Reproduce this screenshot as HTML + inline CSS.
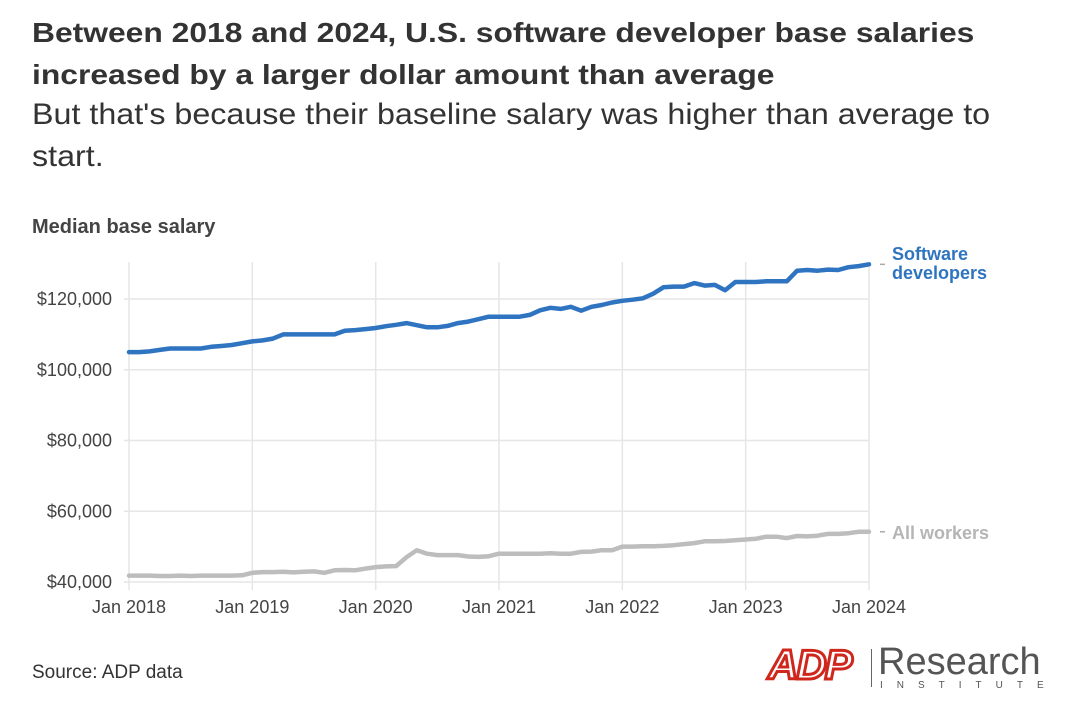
<!DOCTYPE html>
<html><head><meta charset="utf-8">
<style>
body{margin:0;background:#fff;font-family:"Liberation Sans","Noto Sans CJK SC",sans-serif;}
#wrap{position:relative;width:1080px;height:723px;overflow:hidden;}
.t{position:absolute;white-space:nowrap;}
</style></head><body>
<div id="wrap">
<div class="t" style="left:32px;top:12px;font-size:28px;font-weight:bold;color:#333;line-height:42px;transform:scaleX(1.136);transform-origin:0 0;">Between 2018 and 2024, U.S. software developer base salaries<br>increased by a larger dollar amount than average</div>
<div class="t" style="left:32px;top:94px;font-size:30px;color:#333;line-height:42px;transform:scaleX(1.075);transform-origin:0 0;">But that's because their baseline salary was higher than average to<br>start.</div>
<div class="t" style="left:32px;top:216px;font-size:20px;font-weight:bold;color:#444;">Median base salary</div>
<div class="t" style="left:32px;top:662px;font-size:19px;color:#333;">Source: ADP data</div>
<div style="position:absolute;left:768px;top:645px;width:280px;height:50px;">
 <div class="t" style="left:0;top:-4px;font-size:42px;font-weight:bold;font-style:italic;color:#fff;-webkit-text-stroke:3px #d0271d;letter-spacing:-2px;">ADP</div>
 <div style="position:absolute;left:103px;top:4px;width:1px;height:38px;background:#666;"></div>
 <div class="t" style="left:110px;top:-4px;font-size:38px;color:#555;">Research</div>
 <div class="t" style="left:112px;top:35px;font-size:10px;color:#555;letter-spacing:14px;">INSTITUTE</div>
</div>
<svg id="chart" width="1080" height="723" style="position:absolute;left:0;top:0"></svg>
</div>
<script>
const years=["Jan 2018","Jan 2019","Jan 2020","Jan 2021","Jan 2022","Jan 2023","Jan 2024"];
const yTicks=[40000,60000,80000,100000,120000];
const softwareDevelopers=[105,105,105.2,105.6,106,106,106,106,106.5,106.7,107,107.5,
108,108.3,108.8,110,110,110,110,110,110,111,111.2,111.5,
111.8,112.3,112.7,113.2,112.6,112,112,112.4,113.2,113.6,114.3,115,
115,115,115,115.5,116.8,117.5,117.2,117.8,116.7,117.8,118.3,119,
119.5,119.8,120.2,121.5,123.3,123.5,123.5,124.5,123.8,124,122.5,124.8,
124.8,124.8,125,125,125,128,128.2,128,128.3,128.2,129,129.3,
129.8];
const allWorkers=[41.8,41.8,41.8,41.7,41.7,41.8,41.7,41.8,41.8,41.8,41.8,41.9,
42.6,42.8,42.8,42.9,42.7,42.9,43.0,42.6,43.3,43.4,43.3,43.8,
44.2,44.4,44.5,47.0,49.0,48.0,47.6,47.6,47.6,47.2,47.1,47.3,
48,48,48,48,48,48.1,48,48,48.5,48.6,49,49,
50,50,50.1,50.1,50.2,50.4,50.7,51,51.5,51.5,51.6,51.8,
52,52.2,52.8,52.8,52.4,53,52.9,53.1,53.6,53.6,53.8,54.2,
54.2];
const NS="http://www.w3.org/2000/svg";
const svg=document.getElementById('chart');
const X0=129,X1=869,Y0=582,Y1=299;
const xm=i=>X0+(X1-X0)*i/72;
const yv=v=>Y0-(v-40000)*(Y0-Y1)/80000;
function mk(tag,attrs){const e=document.createElementNS(NS,tag);for(const k in attrs)e.setAttribute(k,attrs[k]);svg.appendChild(e);return e;}
years.forEach((lab,i)=>{
 const x=xm(i*12);
 const g=mk('line',{x1:x,x2:x,y1:262,y2:590,stroke:'#e6e6e6','stroke-width':1.5});
 
 
 const t=mk('text',{x:x,y:613,'text-anchor':'middle','font-size':18,fill:'#444','font-family':'Liberation Sans, sans-serif'});
 t.textContent=lab;
 
 
});
yTicks.forEach(v=>{
 const y=yv(v);
 const g=mk('line',{x1:124,x2:X1,y1:y,y2:y,stroke:'#e6e6e6','stroke-width':1.5});
 
 
 const t=mk('text',{x:112,y:y+6,'text-anchor':'end','font-size':18,fill:'#444','font-family':'Liberation Sans, sans-serif'});
 t.textContent='$'+v.toLocaleString('en-US');
 
 
});
function series(vals,color,name){
 const d=vals.map((v,i)=>(i?'L':'M')+xm(i).toFixed(1)+','+yv(v*1000).toFixed(1)).join(' ');
 const p=mk('path',{d:d,fill:'none',stroke:color,'stroke-width':4.5,'stroke-linejoin':'round','stroke-linecap':'round'});
 
 
 const yl=yv(vals[vals.length-1]*1000);
 const m=mk('line',{x1:880,x2:885,y1:yl,y2:yl,stroke:'#aaa','stroke-width':1.5});
 
 
}
series(allWorkers,'#bdbdbd','all-workers-line');
series(softwareDevelopers,'#2f74c0','software-developers-line');
function lbl(lines,y,color,name){
 const t=mk('text',{x:892,y:y,'font-size':18,'font-weight':'bold',fill:color,'font-family':'Liberation Sans, sans-serif'});
 lines.forEach((s,i)=>{const ts=document.createElementNS(NS,'tspan');ts.setAttribute('x',892);ts.setAttribute('dy',i?19:0);ts.textContent=s;t.appendChild(ts);});
 
 
}
lbl(['Software','developers'],260,'#2f74c0','software-developers-label');
lbl(['All workers'],539,'#b5b5b5','all-workers-label');
</script>
</body></html>
